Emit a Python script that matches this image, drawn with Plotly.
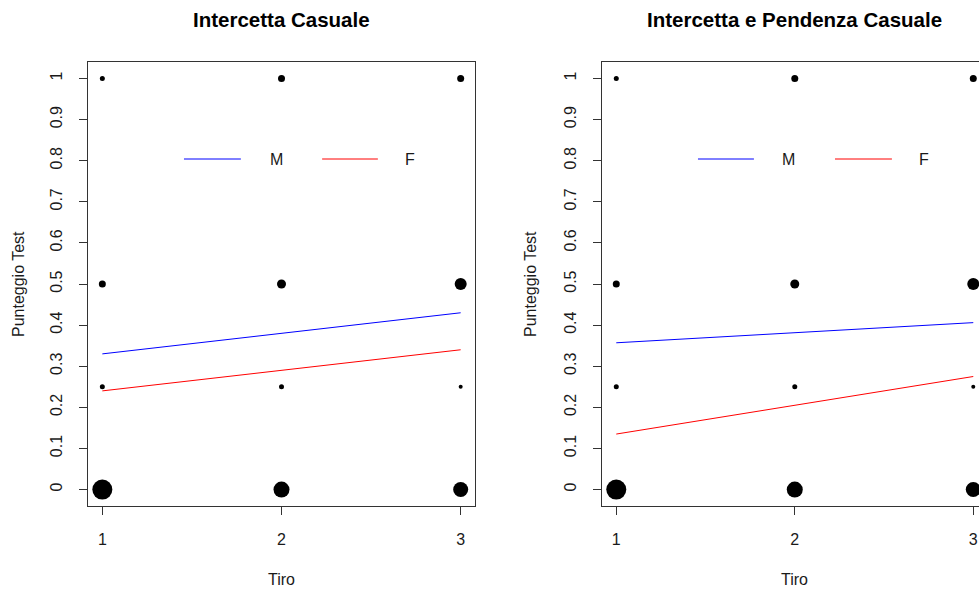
import plotly.graph_objects as go

# ---- data ----
tiro = [1, 2, 3]
punteggio_livelli = [0, 0.25, 0.5, 1]
# estimated number of observations at each (Tiro, Punteggio) combination
freq_0 = [17, 13, 12]
freq_025 = [2, 2, 1]
freq_05 = [4, 6, 9]
freq_1 = [2, 4, 4]

# model predictions at Tiro = 1 and Tiro = 3
tiro_fit = [1, 3]
m1_M = [0.33, 0.43]
m1_F = [0.24, 0.34]
m2_M = [0.357, 0.406]
m2_F = [0.135, 0.275]

titoli = ["Intercetta Casuale", "Intercetta e Pendenza Casuale"]
y_ticks = [0, 0.1, 0.2, 0.3, 0.4, 0.5, 0.6, 0.7, 0.8, 0.9, 1]
y_ticktext = ["0", "0.1", "0.2", "0.3", "0.4", "0.5", "0.6", "0.7", "0.8", "0.9", "1"]
x_ticks = [1, 2, 3]

W, H = 979, 589
FONT = "Liberation Sans, Arial, sans-serif"
INK = "#1a1a1a"

fig = go.Figure()

xs, ys, fs = [], [], []
for lev, fr in zip(punteggio_livelli, [freq_0, freq_025, freq_05, freq_1]):
    for t, f in zip(tiro, fr):
        xs.append(t)
        ys.append(lev)
        fs.append(f)
sizes = [3 + f for f in fs]

for k, (mM, mF) in enumerate([(m1_M, m1_F), (m2_M, m2_F)]):
    xa = "x" if k == 0 else "x2"
    ya = "y" if k == 0 else "y2"
    fig.add_trace(go.Scatter(x=xs, y=ys, mode="markers", xaxis=xa, yaxis=ya,
                             marker=dict(size=sizes, color="black", opacity=1, line=dict(width=0)),
                             showlegend=False, hoverinfo="skip"))
    fig.add_trace(go.Scatter(x=tiro_fit, y=mM, mode="lines", xaxis=xa, yaxis=ya,
                             line=dict(color="#0000FF", width=1), showlegend=False))
    fig.add_trace(go.Scatter(x=tiro_fit, y=mF, mode="lines", xaxis=xa, yaxis=ya,
                             line=dict(color="#FF0000", width=1), showlegend=False))

top, bottom = 62, 506
ydom = [1 - bottom / H, 1 - top / H]

axis_common = dict(showline=True, linecolor="#333333", linewidth=1, ticks="outside",
                   ticklen=8, tickcolor="#333333", showgrid=False, zeroline=False,
                   ticklabeloverflow="allow",
                   tickfont=dict(family=FONT, size=16, color=INK))

fig.update_layout(
    width=W, height=H, margin=dict(l=0, r=0, t=0, b=0),
    paper_bgcolor="white", plot_bgcolor="white",
    xaxis=dict(domain=[88 / W, 475 / W], range=[0.92, 3.08], tickvals=x_ticks,
               mirror=True, anchor="y", ticklabelstandoff=11, **axis_common),
    yaxis=dict(domain=ydom, range=[-0.04, 1.04], tickvals=y_ticks, ticktext=y_ticktext,
               tickangle=-90, mirror=True, anchor="x", ticklabelstandoff=11, **axis_common),
    xaxis2=dict(domain=[602 / W, 1.0], range=[0.92, 0.92 + 377 / 178.5], tickvals=x_ticks,
                mirror=True, anchor="y2", ticklabelstandoff=11, **axis_common),
    yaxis2=dict(domain=ydom, range=[-0.04, 1.04], tickvals=y_ticks, ticktext=y_ticktext,
                tickangle=-90, mirror=False, anchor="x2", ticklabelstandoff=11, **axis_common),
)

# titles and axis titles
centers = [281.5, 794.5]
ann = []
for k, c in enumerate(centers):
    ann.append(dict(text="<b>%s</b>" % titoli[k], x=c / W, y=1 - 20 / H, xref="paper", yref="paper",
                    showarrow=False, xanchor="center", yanchor="middle",
                    font=dict(family=FONT, size=20.5, color="black")))
    ann.append(dict(text="Tiro", x=c / W, y=1 - 579 / H, xref="paper", yref="paper",
                    showarrow=False, xanchor="center", yanchor="middle",
                    font=dict(family=FONT, size=16, color=INK)))
for xp in [18, 530]:
    ann.append(dict(text="Punteggio Test", x=xp / W, y=1 - 284 / H, xref="paper", yref="paper",
                    showarrow=False, xanchor="center", yanchor="middle", textangle=-90,
                    font=dict(family=FONT, size=16, color=INK)))

# legends (inside each panel, no box)
shapes = []
leg = [
    ("x domain", "y domain", [(0.248, 0.395, "#0000FF", 0.486, "M"), (0.605, 0.749, "#FF0000", 0.832, "F")]),
    ("x2 domain", "y2 domain", [(0.2546, 0.403, "#0000FF", 0.496, "M"), (0.618, 0.769, "#FF0000", 0.854, "F")]),
]
ly = 1 - (159 - top) / (bottom - top)
for xr, yr, items in leg:
    for x0, x1, col, tx, lab in items:
        shapes.append(dict(type="line", xref=xr, yref=yr, x0=x0, x1=x1, y0=ly, y1=ly,
                           line=dict(color=col, width=1)))
        ann.append(dict(text=lab, xref=xr, yref=yr, x=tx, y=ly, showarrow=False,
                        xanchor="center", yanchor="middle",
                        font=dict(family=FONT, size=16, color=INK)))

fig.update_layout(annotations=ann, shapes=shapes)
fig.write_html("out.html")
